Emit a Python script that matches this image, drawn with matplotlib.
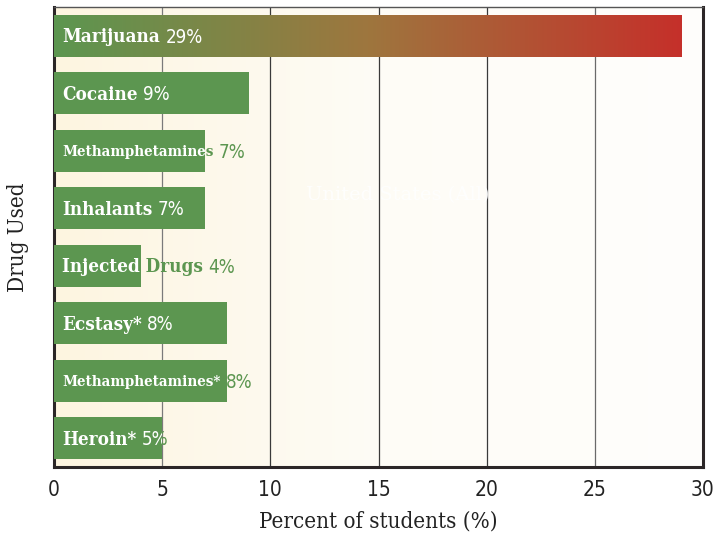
import numpy as np
import matplotlib
matplotlib.use("Agg")
import matplotlib.pyplot as plt
from matplotlib.colors import LinearSegmentedColormap
from matplotlib.patches import Rectangle

# Survey results: share of students who have used each drug
drugs = ["Marijuana", "Cocaine", "Methamphetamines", "Inhalants",
         "Injected Drugs", "Ecstasy*", "Methamphetamines*", "Heroin*"]
percent = [29, 9, 7, 7, 4, 8, 8, 5]
x_ticks = [0, 5, 10, 15, 20, 25, 30]

GREEN = "#5c9650"
SERIF = ["DejaVu Serif"]

fig = plt.figure(figsize=(7.15, 5.35), dpi=100)
ax = fig.add_axes([54 / 715, 68 / 535, 649 / 715, 460 / 535])

n = len(drugs)
ypos = np.arange(n)
ax.set_xlim(0, 30)
ax.set_ylim(n - 0.5, -0.5)

# soft cream-to-white background
bg = LinearSegmentedColormap.from_list("bg", ["#fdf5e0", "#fefcf6", "#fffefc"])
ax.imshow(np.linspace(0, 1, 256)[None, :], cmap=bg, aspect="auto",
          extent=[0, 30, n - 0.5, -0.5], zorder=0)

grid_colors = {5: "#7a7a7a", 10: "#3a3a3a", 15: "#3a3a3a", 20: "#3a3a3a", 25: "#6a6a6a"}
for x in x_ticks[1:-1]:
    ax.axvline(x, color=grid_colors[x], lw=0.9, zorder=1)

ax.text(15.9, 2.77, "United States (All)", color="white", alpha=0.85,
        fontsize=14, family=SERIF, ha="center", va="center", zorder=1.5)

bar_h = 0.73
grad = LinearSegmentedColormap.from_list(
    "mj", [(0, "#5c9650"), (0.5, "#9e763e"), (1, "#c5302a")])

for i, (name, val) in enumerate(zip(drugs, percent)):
    rect = Rectangle((0, i - bar_h / 2), val, bar_h, facecolor=GREEN,
                     edgecolor="none", zorder=3)
    ax.add_patch(rect)
    if i == 0:
        rect.set_facecolor("none")
        im = ax.imshow(np.linspace(0, 1, 256)[None, :], cmap=grad, aspect="auto",
                       extent=[0, val, i + bar_h / 2, i - bar_h / 2], zorder=3)
        im.set_clip_path(rect)

    narrow = name.startswith("Methamph")
    fs = 13.5 if not narrow else 10.8
    for color, z, clip in (("#5c9650", 2, None), ("white", 4, rect)):
        t1 = ax.text(0.37, i + 0.03, name, color=color, fontsize=fs,
                     fontweight="bold", family=SERIF, fontstretch="condensed",
                     ha="left", va="center", zorder=z)
        t2 = ax.annotate(f"{val}%", xy=(1, 0.5), xycoords=t1,
                         xytext=(4, 0), textcoords="offset points",
                         color=color, fontsize=13.5, family=["DejaVu Sans"],
                         fontstretch="condensed", ha="left", va="center",
                         zorder=z)
        if clip is not None:
            t1.set_clip_path(clip)
            t2.set_clip_path(clip)
            t1.set_clip_on(True)
            t2.set_clip_on(True)

ax.set_yticks([])
ax.set_xticks(x_ticks)
ax.tick_params(axis="x", length=0, pad=9, labelsize=15, colors="#222222")
for lab in ax.get_xticklabels():
    lab.set_fontstretch("condensed")

ax.set_xlabel("Percent of students (%)", fontsize=16, family=SERIF,
              fontstretch="condensed", color="#222222", labelpad=8)
ax.set_ylabel("Drug Used", fontsize=16, family=SERIF,
              fontstretch="condensed", color="#222222", labelpad=18)

for side in ("left", "right", "bottom"):
    ax.spines[side].set_linewidth(2.2)
    ax.spines[side].set_color("#2b2627")
    ax.spines[side].set_zorder(2.5)
ax.spines["top"].set_linewidth(1)
ax.spines["top"].set_color("#555555")

fig.savefig("out.png", dpi=100)
